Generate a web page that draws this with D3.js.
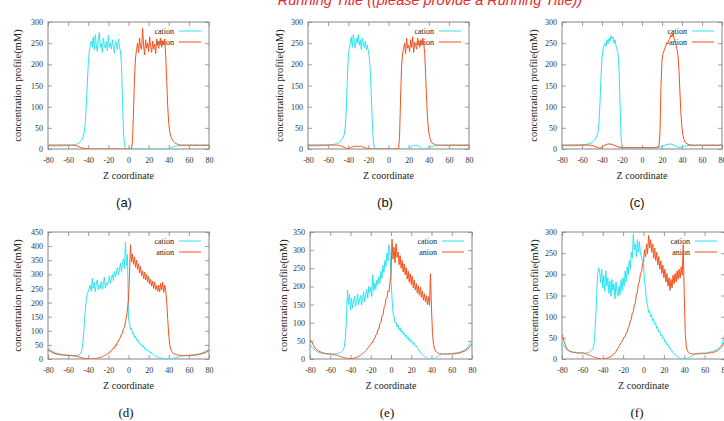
<!DOCTYPE html>
<html><head><meta charset="utf-8">
<script src="https://cdn.jsdelivr.net/npm/d3@7"></script>
<style>html,body{margin:0;padding:0;background:#fff;}svg{display:block;}</style>
</head><body>
<script>
const titleText = "Running Title ((please provide a Running Title))";
const panelLabels = ["(a)","(b)","(c)","(d)","(e)","(f)"];
const seriesNames = ["cation","anion"];
const xTicks = [-80,-60,-40,-20,0,20,40,60,80];
const yTicksTop = [0,50,100,150,200,250,300];
const yTicksD = [0,50,100,150,200,250,300,350,400,450];
const yTicksE = [0,50,100,150,200,250,300,350];
const yTicksF = [0,50,100,150,200,250,300];
const zCoords = [-80,-79,-78,-77,-76,-75,-74,-73,-72,-71,-70,-69,-68,-67,-66,-65,-64,-63,-62,-61,-60,-59,-58,-57,-56,-55,-54,-53,-52,-51,-50,-49,-48,-47,-46,-45,-44,-43,-42,-41,-40,-39,-38,-37,-36,-35,-34,-33,-32,-31,-30,-29,-28,-27,-26,-25,-24,-23,-22,-21,-20,-19,-18,-17,-16,-15,-14,-13,-12,-11,-10,-9,-8,-7,-6,-5,-4,-3,-2,-1,0,1,2,3,4,5,6,7,8,9,10,11,12,13,14,15,16,17,18,19,20,21,22,23,24,25,26,27,28,29,30,31,32,33,34,35,36,37,38,39,40,41,42,43,44,45,46,47,48,49,50,51,52,53,54,55,56,57,58,59,60,61,62,63,64,65,66,67,68,69,70,71,72,73,74,75,76,77,78,79,80];

const aCation = [7,7,8,7,7,8,7,7,7,8,7,7,8,7,7,8,8,7,8,8,8,9,8,9,9,
 9,10,10,11,12,13,15,17,20,24,
 30,40,60,100,150,200,230,245,
 255,240,265,235,270,245,230,260,275,240,250,228,262,245,238,255,232,268,240,250,236,258,242,226,255,248,235,260,240,232,
 200,120,40,8,1,
 0,0,0,0,0,0,0,0,0,0,0,0,0,0,0,0,0,0,0,0,0,0,0,0,0,0,0,0,0,0,0,0,0,0,0,0,0,0,0,0,0,0,
 1,2,3,4,5,6,6,7,7,8,8,
 8,8,9,8,8,8,9,8,8,8,8,9,8,8,8,8,9,8,8,8,8,8,9,8,8,8,8,9,8,8];
const aAnion = [9,9,10,9,9,10,9,9,10,9,9,10,9,10,9,9,10,9,9,10,9,10,9,9,10,
 9,9,8,8,7,6,5,4,3,2,
 2,1,1,1,0,0,0,0,
 0,0,0,0,0,0,0,0,0,0,0,0,0,0,0,0,0,0,0,0,0,0,0,0,0,0,0,0,0,0,0,0,0,0,0,0,0,0,0,0,0,
 20,90,170,215,235,
 250,228,262,240,235,285,245,222,258,238,250,230,265,242,228,255,236,248,225,260,245,238,252,262,240,256,248,260,
 220,160,100,60,40,30,24,20,
 17,15,13,12,11,10,10,9,9,9,10,9,9,9,10,9,9,10,9,9,9,10,9,9,10,9,9,9,10,9,9,10,9,9,9,10];

const bCation = [7,7,8,7,8,7,7,8,7,8,8,7,8,8,8,9,8,8,9,9,9,9,10,10,10,11,11,12,12,13,
 14,16,18,20,24,28,34,50,90,
 160,215,238,250,
 265,240,270,255,238,262,250,270,245,258,235,262,248,240,255,235,245,230,
 215,180,120,60,15,3,0,
 0,0,0,0,0,0,0,0,0,0,0,0,0,0,0,0,0,0,0,0,0,0,0,0,0,0,0,0,0,0,0,0,0,
 2,4,6,7,8,9,8,9,8,7,6,4,2,
 1,0,0,0,1,2,3,
 4,5,6,6,7,7,8,8,8,8,
 8,8,9,8,8,8,9,8,8,8,8,9,8,8,8,8,9,8,8,8,8,8,9,8,8,8,8,9,8,8];
const bAnion = [9,10,9,9,10,9,9,10,9,9,10,9,10,9,9,10,9,9,10,9,10,9,9,10,9,9,10,9,9,9,
 9,8,8,7,6,5,4,3,2,1,
 1,2,3,4,5,
 6,6,7,6,7,6,6,7,6,5,5,
 4,3,2,1,1,0,0,
 0,0,0,0,0,0,0,0,0,0,0,0,0,0,0,0,0,0,0,0,0,0,0,0,0,0,0,0,
 30,120,195,225,238,
 250,225,262,238,245,230,258,240,265,228,252,244,236,262,250,240,258,245,262,250,
 225,170,110,65,40,28,20,15,
 13,12,11,10,10,9,9,10,9,9,9,10,9,9,10,9,9,9,10,9,9,10,9,9,9,10,9,9,10,9,9,9,10,9,9,10,9];

const cCation = [7,8,7,8,7,8,8,7,8,8,8,7,8,8,8,9,8,8,9,9,9,10,10,10,11,11,12,12,13,14,
 15,17,20,23,27,32,40,60,
 110,170,215,235,245,
 250,242,258,248,262,255,268,260,265,250,258,244,235,225,
 190,110,30,6,3,
 3,3,2,3,3,3,2,3,3,3,3,2,3,3,3,3,3,2,3,3,3,3,2,3,3,3,3,2,3,3,3,3,3,3,4,4,5,5,6,
 7,8,9,10,11,11,12,11,12,11,10,9,8,6,5,
 4,3,3,4,5,6,6,7,7,8,
 8,8,9,8,8,8,9,8,8,8,8,9,8,8,8,8,9,8,8,8,8,8,9,8,8,8,8,9,8,8,8,8,9,8,8];
const cAnion = [9,10,9,9,10,9,9,10,9,9,10,9,10,9,9,10,9,9,10,9,10,9,9,10,9,9,10,9,9,9,8,8,7,6,5,
 4,3,2,2,3,4,6,8,
 9,10,11,12,12,11,12,11,10,9,8,7,6,5,4,4,
 4,3,3,3,3,3,3,4,3,3,3,3,3,3,3,3,4,3,3,3,3,3,3,3,4,3,3,3,3,3,3,3,3,3,3,4,4,5,6,
 40,150,210,225,232,
 238,245,252,248,258,262,270,265,275,262,255,245,235,220,
 185,130,80,50,32,22,17,14,
 12,11,10,10,9,9,10,9,9,9,10,9,9,10,9,9,9,10,9,9,10,9,9,9,10,9,9,10,9,9,9,10,9,9,10,9];

const dCation = [38,35,33,30,28,26,24,22,21,20,19,18,17,16,16,15,15,15,14,14,
 14,13,13,13,12,12,12,12,12,13,14,15,18,
 25,40,70,120,170,210,230,240,250,
 262,240,285,250,272,238,268,280,245,262,250,275,248,265,290,252,270,260,
 272,295,268,285,300,278,310,292,305,325,298,318,340,310,335,355,320,415,330,370,
 140,128,105,110,88,92,75,80,66,70,58,
 60,50,52,42,47,36,38,30,33,26,28,20,23,17,15,12,10,8,7,6,5,4,3,2,2,1,1,0,0,0,
 0,1,1,2,3,4,5,6,7,8,9,10,11,12,12,13,13,13,13,13,
 13,14,14,14,15,15,16,16,17,18,19,20,21,22,24,26,28,30,32,35];
const dAnion = [32,30,28,26,24,22,20,19,18,17,16,16,15,15,14,14,14,13,13,13,
 13,13,12,12,12,11,11,10,10,9,8,7,6,5,4,3,2,2,1,1,
 0,0,0,0,0,1,1,2,2,3,4,5,6,7,8,10,12,14,16,18,
 20,25,24,31,33,40,38,50,48,60,62,72,75,88,92,108,112,132,148,178,
 210,300,405,345,372,335,362,325,350,318,338,
 305,328,296,312,285,308,280,300,272,292,265,282,258,276,250,272,246,260,240,262,238,268,245,272,236,262,242,
 200,140,85,50,35,27,22,19,
 17,16,15,14,14,13,13,13,12,12,12,12,12,12,13,13,13,13,13,14,14,14,15,15,16,17,18,19,20,21,22,24,26,28,30];

const eCation = [40,36,32,29,26,24,22,20,19,18,17,16,16,15,15,15,14,14,14,14,
 14,14,14,14,14,15,15,15,16,17,18,20,22,26,
 35,60,110,190,
 150,178,135,168,140,160,172,145,158,180,150,165,175,148,170,185,158,176,192,168,200,182,
 198,172,232,188,210,192,218,205,228,208,242,222,258,238,272,255,292,270,315,298,
 220,168,128,118,100,102,88,94,80,86,74,
 78,68,72,62,66,56,60,50,54,46,49,40,44,35,37,30,28,22,20,15,12,9,7,5,3,2,1,1,0,0,
 0,1,2,3,5,7,9,11,12,13,14,15,15,15,15,15,15,15,15,15,
 15,16,16,17,17,18,18,19,20,21,22,24,26,28,30,33,37,42,47,52];
const eAnion = [52,50,45,40,35,30,27,25,23,21,20,19,18,17,16,15,15,14,14,14,
 14,13,13,12,12,11,11,10,9,8,7,6,5,4,3,3,2,2,1,1,
 1,1,2,2,3,4,5,6,7,9,11,13,15,17,20,23,26,30,33,36,
 40,46,45,55,57,66,68,80,82,98,100,118,120,140,145,165,168,188,185,212,
 230,330,275,308,265,318,280,295,260,285,250,
 272,240,262,232,252,220,242,212,235,205,228,196,218,190,208,182,202,176,198,170,188,162,180,158,175,150,172,148,
 235,140,70,40,28,22,19,
 17,16,15,15,14,14,14,13,13,13,13,13,14,14,14,14,14,15,15,15,16,16,17,18,19,20,21,22,24,26,28,31,34,38,42];

const fCation = [40,34,30,27,24,22,20,19,18,17,17,16,16,16,15,15,15,15,15,15,
 15,15,14,14,14,15,15,16,18,20,24,30,
 50,90,150,200,215,
 205,180,212,168,198,160,208,172,192,155,184,148,188,162,178,142,182,158,148,172,152,188,162,
 192,172,208,182,218,198,232,212,252,238,295,258,272,242,282,252,278,248,242,228,
 222,185,165,135,128,110,114,100,104,90,94,
 82,84,72,75,64,66,55,58,48,50,40,42,33,35,26,27,20,19,15,13,10,8,6,5,3,2,1,1,0,0,
 0,1,2,3,4,5,6,8,10,11,12,13,13,14,14,14,14,14,14,14,
 14,15,15,16,16,17,17,18,19,20,21,22,24,26,28,31,35,42,52,65];
const fAnion = [58,50,42,35,28,24,21,19,18,17,16,16,15,15,15,14,14,14,14,14,
 14,13,13,12,12,11,10,9,8,7,6,5,4,3,2,2,1,1,0,0,
 0,0,1,1,2,3,4,5,6,8,10,12,15,18,22,26,30,34,38,42,
 46,52,53,62,64,74,78,90,94,108,112,128,132,152,158,178,182,202,206,222,
 230,258,242,272,248,292,262,282,252,272,238,
 262,232,252,222,242,212,232,202,222,192,212,182,202,172,192,162,188,168,198,178,202,182,208,188,212,192,218,198,
 270,150,60,30,20,16,14,
 13,13,12,12,12,12,12,12,12,12,12,13,13,13,13,13,13,14,14,14,15,15,15,16,17,18,19,20,22,24,27,30,34,38,42];

const panelCations = [aCation,bCation,cCation,dCation,eCation,fCation];
const panelAnions = [aAnion,bAnion,cAnion,dAnion,eAnion,fAnion];
const panelYTicks = [yTicksTop,yTicksTop,yTicksTop,yTicksD,yTicksE,yTicksF];

// layout (pixel boxes of each plot frame)
const layout = [
  {l:48,r:209,t:22,b:149,ylx:17,capx:124,capSans:true},
  {l:308,r:469,t:22,b:149,ylx:279,capx:385,capSans:true},
  {l:562,r:722,t:22,b:149,ylx:533,capx:637,capSans:true},
  {l:48,r:209,t:232,b:359,ylx:17,capx:126,capSans:false},
  {l:310,r:472,t:232,b:359,ylx:283,capx:387,capSans:false},
  {l:562,r:725,t:232,b:359,ylx:534,capx:637,capSans:false}
];
const colors = {cation:"#2fe4ef", anion:"#f4521d"};
const frameColor = "#858585";
const serif = "'Liberation Serif','DejaVu Serif',serif";

const W = 724, H = 421;
const svg = d3.select("body").append("svg").attr("width",W).attr("height",H);

svg.append("text").attr("x",430).attr("y",5)
  .attr("text-anchor","middle")
  .attr("font-family","'Liberation Sans',Arial,sans-serif")
  .attr("font-style","italic").attr("font-size",14.5)
  .attr("fill","#e8282b").text(titleText);

const fmt = d => String(d);

layout.forEach((p,i)=>{
  const yt = panelYTicks[i];
  const x = d3.scaleLinear().domain([xTicks[0], xTicks[xTicks.length-1]]).range([p.l,p.r]);
  const y = d3.scaleLinear().domain([yt[0], yt[yt.length-1]]).range([p.b,p.t]);
  const g = svg.append("g");

  const tk = 4;
  const bottomAx = d3.axisBottom(x).tickValues(xTicks).tickSizeInner(-tk).tickSizeOuter(0).tickPadding(8).tickFormat(fmt);
  const topAx = d3.axisTop(x).tickValues(xTicks).tickSizeInner(-tk).tickSizeOuter(0).tickFormat("");
  const leftAx = d3.axisLeft(y).tickValues(yt).tickSizeInner(-tk).tickSizeOuter(0).tickPadding(5).tickFormat(fmt);
  const rightAx = d3.axisRight(y).tickValues(yt).tickSizeInner(-tk).tickSizeOuter(0).tickFormat("");
  const gb = g.append("g").attr("transform",`translate(0,${p.b})`).call(bottomAx);
  const gt = g.append("g").attr("transform",`translate(0,${p.t})`).call(topAx);
  const gl = g.append("g").attr("transform",`translate(${p.l},0)`).call(leftAx);
  const gr = g.append("g").attr("transform",`translate(${p.r},0)`).call(rightAx);
  [gb,gt,gl,gr].forEach(a=>{
    a.select(".domain").remove();
    a.selectAll(".tick line").attr("stroke",frameColor).attr("stroke-width",0.8);
    a.selectAll("text").attr("font-family",serif).attr("font-size",8).attr("fill","#333");
  });

  g.append("rect").attr("x",p.l).attr("y",p.t).attr("width",p.r-p.l).attr("height",p.b-p.t)
    .attr("fill","none").attr("stroke",frameColor).attr("stroke-width",1);

  g.append("text").attr("transform",`translate(${p.ylx},${(p.t+p.b)/2}) rotate(-90)`)
    .attr("text-anchor","middle").attr("dominant-baseline","central")
    .attr("font-family",serif).attr("font-size",10.5).attr("fill","#222")
    .text("concentration profile(mM)");
  g.append("text").attr("x",(p.l+p.r)/2).attr("y",p.b+30)
    .attr("text-anchor","middle").attr("font-family",serif).attr("font-size",10).attr("fill","#222")
    .text("Z coordinate");

  seriesNames.forEach((s,k)=>{
    const ly = p.t + 9 + k*11;
    g.append("text").attr("x",p.r-35).attr("y",ly).attr("dy","0.33em")
      .attr("text-anchor","end").attr("font-family",serif).attr("font-size",8).attr("fill","#222").text(s);
    g.append("line").attr("x1",p.r-30).attr("x2",p.r-8).attr("y1",ly).attr("y2",ly)
      .attr("stroke",colors[s]).attr("stroke-width",1);
  });

  const line = d3.line().x((d,j)=>x(zCoords[j])).y(d=>y(d));
  const clipId = "clip"+i;
  svg.append("clipPath").attr("id",clipId).append("rect")
    .attr("x",p.l).attr("y",p.t-1).attr("width",p.r-p.l).attr("height",p.b-p.t+1);
  const dg = g.append("g").attr("clip-path",`url(#${clipId})`);
  dg.append("path").datum(panelCations[i]).attr("d",line).attr("fill","none")
    .attr("stroke",colors.cation).attr("stroke-width",1);
  dg.append("path").datum(panelAnions[i]).attr("d",line).attr("fill","none")
    .attr("stroke",colors.anion).attr("stroke-width",1);

  svg.append("text").attr("x",p.capx).attr("y",p.b+58).attr("text-anchor","middle")
    .attr("font-family", p.capSans ? "'Liberation Sans',Arial,sans-serif" : serif)
    .attr("font-size",13).attr("fill","#111").text(panelLabels[i]);
});
</script>
</body></html>
